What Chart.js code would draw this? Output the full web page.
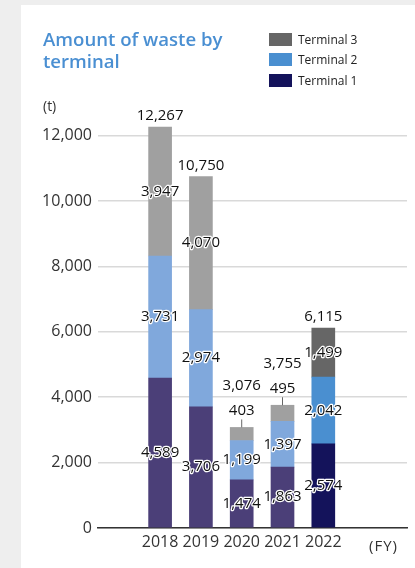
<!DOCTYPE html>
<html>
<head>
<meta charset="utf-8">
<title>Amount of waste by terminal</title>
<script src="https://cdn.jsdelivr.net/npm/chart.js@4"></script>
<style>
  html, body { margin: 0; padding: 0; background: #eeeeee; }
  body { width: 415px; height: 568px; overflow: hidden; position: relative; font-family: "Open Sans", sans-serif; }
  .panel { position: absolute; left: 21px; top: 5px; width: 394px; height: 563px; background: #fff; }
  .panel canvas { position: absolute; left: 0; top: 0; }
  .title { position: absolute; left: 22px; top: 23px; color: #4a8fd2; font-size: 18.6px; font-weight: 600; line-height: 22px; }
  .legend { position: absolute; left: 248px; top: 24px; font-size: 12px; color: #222; }
  .legend div { display: flex; align-items: center; height: 20.5px; }
  .legend span.sw { display: inline-block; width: 23px; height: 13px; margin-right: 6px; }
  .unit { position: absolute; left: 22px; top: 91px; font-size: 14px; color: #333; }
  .fy { position: absolute; left: 348px; top: 530px; font-size: 15px; color: #333; letter-spacing: 1px; }
</style>
</head>
<body>
<div class="panel">
  <canvas id="wasteChart" width="394" height="563"></canvas>
  <div class="title">Amount of waste by<br>terminal</div>
  <div class="legend" id="legend"></div>
  <div class="unit">(t)</div>
  <div class="fy">(FY)</div>
</div>
<script>
// data
const years = ['2018', '2019', '2020', '2021', '2022'];
const seriesNames = ['Terminal 1', 'Terminal 2', 'Terminal 3'];
const terminal1 = [4589, 3706, 1474, 1863, 2574];
const terminal2 = [3731, 2974, 1199, 1397, 2042];
const terminal3 = [3947, 4070, 403, 495, 1499];
const totals = [12267, 10750, 3076, 3755, 6115];
const yTicks = [0, 2000, 4000, 6000, 8000, 10000, 12000];

// colours: older years vs latest year
const oldColors = ['#4b3f78', '#80a8dc', '#a0a0a0'];
const newColors = ['#14135b', '#4a8fd0', '#666666'];

const fmt = v => v.toLocaleString('en-US');
const barColors = k => years.map((y, j) => j === years.length - 1 ? newColors[k] : oldColors[k]);

// legend (top series first)
const legendEl = document.getElementById('legend');
for (let k = seriesNames.length - 1; k >= 0; k--) {
    const row = document.createElement('div');
    row.innerHTML = '<span class="sw" style="background:' + newColors[k] + '"></span>' + seriesNames[k];
    legendEl.appendChild(row);
}

// value labels inside / above the bars
const valueLabels = {
    id: 'valueLabels',
    afterDatasetsDraw(chart) {
        const ctx = chart.ctx;
        ctx.save();
        ctx.font = '15px "Open Sans"';
        ctx.textAlign = 'center';
        ctx.textBaseline = 'middle';
        ctx.lineJoin = 'round';

        function haloText(txt, x, y) {
            ctx.strokeStyle = '#fff';
            ctx.lineWidth = 2.5;
            ctx.strokeText(txt, x, y);
            ctx.fillStyle = '#111';
            ctx.fillText(txt, x, y);
        }

        years.forEach((yr, j) => {
            let top = null;
            let raised = false;
            chart.data.datasets.forEach((ds, i) => {
                const bar = chart.getDatasetMeta(i).data[j];
                const h = bar.base - bar.y;
                const txt = fmt(ds.data[j].y);
                if (h >= 24) {
                    haloText(txt, bar.x, (bar.y + bar.base) / 2);
                } else {
                    // small segment: label goes above with a leader line
                    ctx.strokeStyle = '#666';
                    ctx.lineWidth = 1;
                    ctx.beginPath();
                    ctx.moveTo(bar.x, bar.y);
                    ctx.lineTo(bar.x, bar.y - 8);
                    ctx.stroke();
                    haloText(txt, bar.x, bar.y - 17);
                    raised = true;
                }
                top = bar.y;
            });
            ctx.fillStyle = '#111';
            ctx.fillText(fmt(totals[j]), chart.getDatasetMeta(0).data[j].x, raised ? top - 42 : top - 11);
        });
        ctx.restore();
    }
};

const makeData = arr => arr.map((v, j) => ({ x: Number(years[j]), y: v }));

const ctx = document.getElementById('wasteChart').getContext('2d');
new Chart(ctx, {
    type: 'bar',
    data: {
        datasets: [
            { label: seriesNames[0], data: makeData(terminal1), backgroundColor: barColors(0) },
            { label: seriesNames[1], data: makeData(terminal2), backgroundColor: barColors(1) },
            { label: seriesNames[2], data: makeData(terminal3), backgroundColor: barColors(2) }
        ]
    },
    options: {
        responsive: false,
        animation: false,
        barThickness: 23,
        layout: { padding: { top: 98, right: 8, left: 0, bottom: 0 } },
        scales: {
            x: {
                type: 'linear',
                stacked: true,
                min: 2017.235,
                max: 2023.294,
                afterBuildTicks: scale => { scale.ticks = years.map(y => ({ value: Number(y) })); },
                afterFit: scale => { scale.height = 40; },
                ticks: {
                    callback: v => String(v),
                    font: { size: 16, family: 'Open Sans' },
                    color: '#333',
                    padding: 5,
                    maxRotation: 0,
                    autoSkip: false
                },
                grid: { display: false, drawTicks: false },
                border: { display: true, color: '#333', width: 1.5 }
            },
            y: {
                stacked: true,
                min: 0,
                max: 13000,
                afterBuildTicks: scale => { scale.ticks = yTicks.map(v => ({ value: v })); },
                afterFit: scale => { scale.width = 77; },
                ticks: {
                    callback: v => fmt(v),
                    font: { size: 16, family: 'Open Sans' },
                    color: '#333',
                    padding: 6
                },
                grid: { color: '#d9d9d9', lineWidth: 1.5, drawTicks: false },
                border: { display: false }
            }
        },
        plugins: {
            legend: { display: false },
            tooltip: { enabled: false }
        }
    },
    plugins: [valueLabels]
});
</script>
</body>
</html>
